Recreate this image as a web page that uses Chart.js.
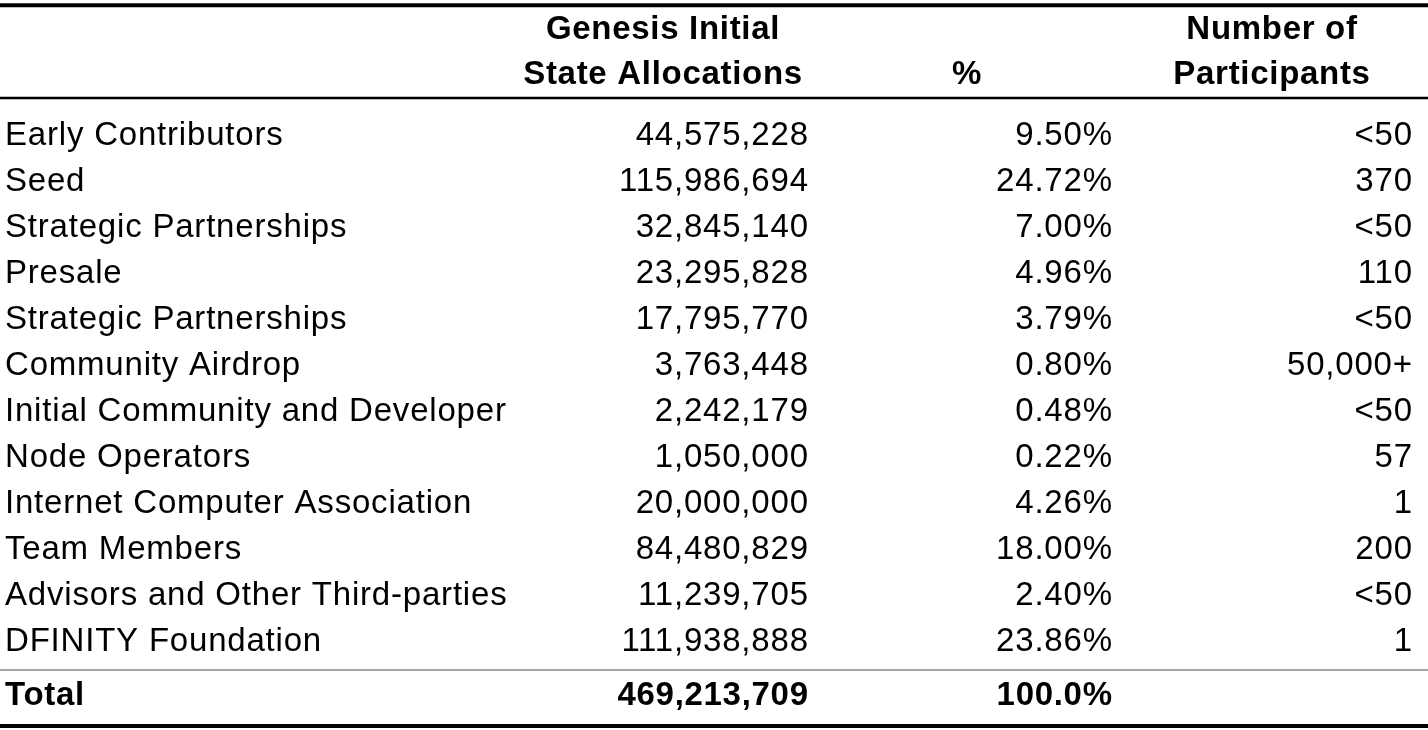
<!DOCTYPE html>
<html>
<head>
<meta charset="utf-8">
<script src="https://cdn.jsdelivr.net/npm/chart.js@4.4.1/dist/chart.umd.min.js"></script>
<style>
  html, body { margin: 0; padding: 0; background: #ffffff; }
  #wrap { width: 1428px; height: 730px; }
</style>
</head>
<body>
<div id="wrap"><canvas id="c" width="1428" height="730"></canvas></div>
<script>
// ---- data ----
const categories = [
  "Early Contributors", "Seed", "Strategic Partnerships", "Presale",
  "Strategic Partnerships", "Community Airdrop", "Initial Community and Developer",
  "Node Operators", "Internet Computer Association", "Team Members",
  "Advisors and Other Third-parties", "DFINITY Foundation"
];
const allocations = [44575228, 115986694, 32845140, 23295828, 17795770, 3763448,
  2242179, 1050000, 20000000, 84480829, 11239705, 111938888];
const percents = [9.50, 24.72, 7.00, 4.96, 3.79, 0.80, 0.48, 0.22, 4.26, 18.00, 2.40, 23.86];
const participants = ["<50", "370", "<50", "110", "<50", "50,000+", "<50", "57", "1", "200", "<50", "1"];
const headers1 = ["Genesis Initial", "", "Number of"];
const headers2 = ["State Allocations", "%", "Participants"];
const totalLabel = "Total";
const totalAllocation = 469213709;
const totalPercent = "100.0%";

// ---- layout (row units on y, pixels on x) ----
const ROW_TOTAL = 12.17;
const HEAD1 = -2.304, HEAD2 = -1.326;
const RULES = [
  { y: -3.037, w: 4, c: "#000000" },
  { y: -1.022, w: 2.5, c: "#000000" },
  { y: 11.413, w: 2, c: "#a6a6a6" },
  { y: 12.630, w: 4, c: "#000000" }
];
const COL_X = { label: 5, alloc: 808, pct: 1112, part: 1412 };
const HEAD_X = [663, 967, 1272];

const fmt = n => n.toLocaleString("en-US");
const rowIdx = categories.map((_, i) => i);

function textSet(xPos, ys, texts, align, bold) {
  return {
    type: "scatter",
    data: ys.map(y => ({ x: xPos, y: y })),
    texts: texts, align: align, bold: bold,
    pointRadius: 0, pointHoverRadius: 0, showLine: false
  };
}

const datasets = [];
// body cells
datasets.push(textSet(COL_X.label, rowIdx, categories, "left", false));
datasets.push(textSet(COL_X.alloc, rowIdx, allocations.map(fmt), "right", false));
datasets.push(textSet(COL_X.pct, rowIdx, percents.map(p => p.toFixed(2) + "%"), "right", false));
datasets.push(textSet(COL_X.part, rowIdx, participants, "right", false));
// total row
datasets.push(textSet(COL_X.label, [ROW_TOTAL], [totalLabel], "left", true));
datasets.push(textSet(COL_X.alloc, [ROW_TOTAL], [fmt(totalAllocation)], "right", true));
datasets.push(textSet(COL_X.pct, [ROW_TOTAL], [totalPercent], "right", true));
// headers
headers1.forEach((h, i) => { if (h) datasets.push(textSet(HEAD_X[i], [HEAD1], [h], "center", true)); });
headers2.forEach((h, i) => { if (h) datasets.push(textSet(HEAD_X[i], [HEAD2], [h], "center", true)); });
// rules
RULES.forEach(r => datasets.push({
  type: "line",
  data: [{ x: 0, y: r.y }, { x: 1428, y: r.y }],
  borderColor: r.c, borderWidth: r.w, pointRadius: 0, fill: false
}));

const textPlugin = {
  id: "cellText",
  afterDatasetsDraw(chart) {
    const ctx = chart.ctx;
    ctx.save();
    ctx.fillStyle = "#000000";
    ctx.textBaseline = "alphabetic";
    chart.data.datasets.forEach((ds, di) => {
      if (!ds.texts) return;
      const meta = chart.getDatasetMeta(di);
      ctx.font = (ds.bold ? "bold " : "") + "33px 'Liberation Sans', Arial, sans-serif";
      ctx.letterSpacing = ds.bold ? "0.7px" : "0.8px";
      ctx.textAlign = ds.align;
      meta.data.forEach((el, i) => {
        let x = el.x;
        if (ds.align === "right") x += ds.bold ? 0.7 : 0.8;
        ctx.fillText(ds.texts[i], x, el.y);
      });
    });
    ctx.restore();
  }
};

new Chart(document.getElementById("c"), {
  type: "scatter",
  data: { datasets: datasets },
  options: {
    responsive: false,
    devicePixelRatio: 1,
    animation: false,
    layout: { padding: 0 },
    plugins: { legend: { display: false }, tooltip: { enabled: false } },
    events: [],
    scales: {
      x: { type: "linear", min: 0, max: 1428, display: false },
      y: { type: "linear", reverse: true, min: -145 / 46, max: (730 - 145) / 46, display: false }
    }
  },
  plugins: [textPlugin]
});
</script>
</body>
</html>
